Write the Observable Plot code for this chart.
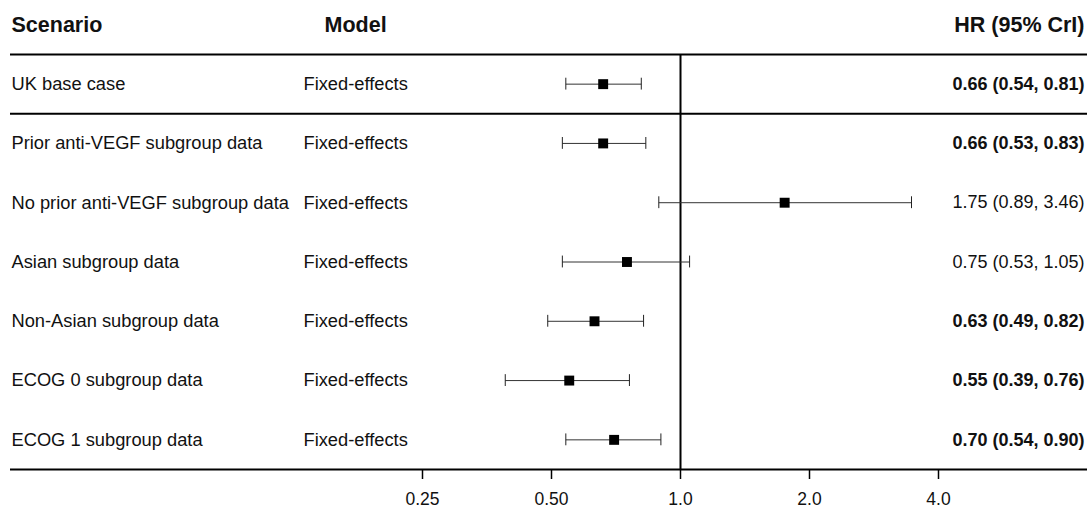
<!DOCTYPE html>
<html>
<head>
<meta charset="utf-8">
<script src="https://cdn.jsdelivr.net/npm/d3@7"></script>
<script src="https://cdn.jsdelivr.net/npm/@observablehq/plot@0.6"></script>
<style>
  html, body { margin: 0; padding: 0; background: #fff; }
  #chart svg { display: block; }
</style>
</head>
<body>
<div id="chart"></div>
<script>
// ---- data ----
const scenarios = [
  "UK base case",
  "Prior anti-VEGF subgroup data",
  "No prior anti-VEGF subgroup data",
  "Asian subgroup data",
  "Non-Asian subgroup data",
  "ECOG 0 subgroup data",
  "ECOG 1 subgroup data"
];
const models = ["Fixed-effects", "Fixed-effects", "Fixed-effects", "Fixed-effects", "Fixed-effects", "Fixed-effects", "Fixed-effects"];
const hrValues = [0.66, 0.66, 1.75, 0.75, 0.63, 0.55, 0.70];
const lowerCrI = [0.54, 0.53, 0.89, 0.53, 0.49, 0.39, 0.54];
const upperCrI = [0.81, 0.83, 3.46, 1.05, 0.82, 0.76, 0.90];
const headers = ["Scenario", "Model", "HR (95% CrI)"];
const tickValues = [0.25, 0.5, 1, 2, 4];
const tickLabels = ["0.25", "0.50", "1.0", "2.0", "4.0"];
const referenceHR = 1;
const separators = [0.5, 1.5, 7.5];

// ---- table built from arrays ----
const rows = scenarios.map((s, i) => ({
  row: i + 1,
  scenario: s,
  model: models[i],
  hr: hrValues[i],
  lo: lowerCrI[i],
  hi: upperCrI[i],
  label: `${hrValues[i].toFixed(2)} (${lowerCrI[i].toFixed(2)}, ${upperCrI[i].toFixed(2)})`,
  bold: upperCrI[i] < 1 || lowerCrI[i] > 1
}));

const font = "'Liberation Sans', Arial, Helvetica, sans-serif";
const ink = "#111";

const chart = Plot.plot({
  width: 1089,
  height: 509,
  marginLeft: 10,
  marginRight: 2,
  marginTop: 54,
  marginBottom: 40,
  style: { fontFamily: font, color: ink, background: "#fff", overflow: "visible" },
  x: { type: "log", domain: [0.25, 4], range: [422, 938] },
  y: { domain: [0.5, 7.5], reverse: true, axis: null },
  marks: [
    // separators
    Plot.ruleY(separators, { stroke: "#000", strokeWidth: 2 }),
    // reference line at HR = 1
    Plot.ruleX([referenceHR], { y1: separators[0], y2: separators[2], stroke: "#000", strokeWidth: 2 }),
    // CrI lines
    Plot.link(rows, { x1: "lo", x2: "hi", y1: "row", y2: "row", stroke: "#333", strokeWidth: 1 }),
    // caps
    Plot.ruleX(rows, { x: "lo", y1: d => d.row - 0.1, y2: d => d.row + 0.1, stroke: "#222", strokeWidth: 1 }),
    Plot.ruleX(rows, { x: "hi", y1: d => d.row - 0.1, y2: d => d.row + 0.1, stroke: "#222", strokeWidth: 1 }),
    // point estimates
    Plot.dot(rows, { x: "hr", y: "row", symbol: "square", r: 5.6, fill: "#000", stroke: "none" }),
    // axis
    Plot.axisX({
      anchor: "bottom",
      ticks: tickValues,
      tickFormat: d => tickLabels[tickValues.indexOf(d)],
      tickSize: 10,
      tickPadding: 13,
      fontSize: 17.5,
      stroke: "#000",
      strokeWidth: 1.5,
      fill: ink,
      label: null
    }),
    // headers
    Plot.text([headers[0]], { y: () => 0, frameAnchor: "left", textAnchor: "start", dx: 1, fontSize: 21.5, fontWeight: "bold", fill: ink }),
    Plot.text([headers[1]], { y: () => 0, frameAnchor: "left", textAnchor: "start", dx: 314, fontSize: 21.5, fontWeight: "bold", fill: ink }),
    Plot.text([headers[2]], { y: () => 0, frameAnchor: "right", textAnchor: "end", dx: -3, fontSize: 21.5, fontWeight: "bold", fill: ink }),
    // row text
    Plot.text(rows, { y: "row", text: "scenario", frameAnchor: "left", textAnchor: "start", dx: 1, fontSize: 18.3, fill: ink }),
    Plot.text(rows, { y: "row", text: "model", frameAnchor: "left", textAnchor: "start", dx: 293, fontSize: 18.3, fill: ink }),
    Plot.text(rows.filter(d => d.bold), { y: "row", text: "label", frameAnchor: "right", textAnchor: "end", dx: -3, fontSize: 18, fontWeight: "bold", fill: ink }),
    Plot.text(rows.filter(d => !d.bold), { y: "row", text: "label", frameAnchor: "right", textAnchor: "end", dx: -3, fontSize: 18, fill: ink })
  ]
});

document.getElementById("chart").appendChild(chart);
</script>
</body>
</html>
